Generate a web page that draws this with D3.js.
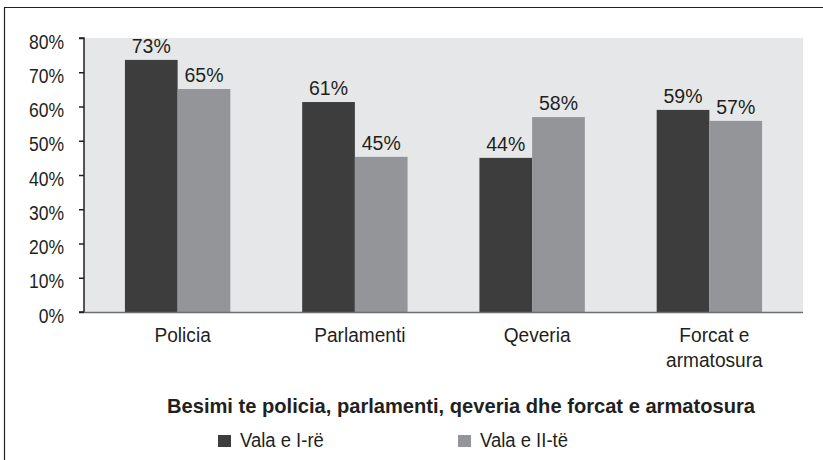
<!DOCTYPE html>
<html>
<head>
<meta charset="utf-8">
<script src="https://cdn.jsdelivr.net/npm/d3@7"></script>
<style>
html,body{margin:0;padding:0;background:#fff;}
svg{display:block;}
text{font-family:"Liberation Sans",Arial,sans-serif;fill:#231f20;}
</style>
</head>
<body>
<svg id="chart" width="823" height="460"></svg>
<script>
const categories = ["Policia", "Parlamenti", "Qeveria", "Forcat e\narmatosura"];
const seriesNames = ["Vala e I-rë", "Vala e II-të"];
const wave1 = [73.6, 61.3, 45.0, 59.0];
const wave2 = [65.1, 45.3, 56.9, 55.8];
const wave1Labels = ["73%", "61%", "44%", "59%"];
const wave2Labels = ["65%", "45%", "58%", "57%"];
const yTicks = [0, 10, 20, 30, 40, 50, 60, 70, 80];
const title = "Besimi te policia, parlamenti, qeveria dhe forcat e armatosura";
const colors = ["#3d3d3d", "#939598"];

const SX = 0.91; // condensed look
const svg = d3.select("#chart");

function addText(parent, x, y, str, size, anchor, opts) {
  opts = opts || {};
  const t = parent.append("text")
    .attr("transform", `translate(${x},${y}) scale(${opts.sx || SX},1)`)
    .attr("text-anchor", anchor || "start")
    .attr("font-size", size)
    .text(str);
  if (opts.bold) t.attr("font-weight", "bold");
  return t;
}

// frame (left and top edges)
svg.append("line").attr("x1",4.5).attr("x2",4.5).attr("y1",7).attr("y2",460).attr("stroke","#231f20").attr("stroke-width",1.2);
svg.append("line").attr("x1",4).attr("x2",823).attr("y1",7.5).attr("y2",7.5).attr("stroke","#231f20").attr("stroke-width",1.2);

const plot = {left:84, right:803, top:38, bottom:312};

const y = d3.scaleLinear().domain([0,80]).range([plot.bottom, plot.top]);
const x0 = d3.scaleBand().domain(categories).range([89, 798]).padding(0);
const bw = x0.bandwidth();
const pairW = 105.4;
const x1 = d3.scaleBand().domain([0,1]).range([(bw-pairW)/2, (bw+pairW)/2]).padding(0);

svg.append("rect").attr("x",plot.left).attr("y",plot.top)
  .attr("width",plot.right-plot.left).attr("height",plot.bottom-plot.top)
  .attr("fill","#e6e7e8");

const series = [wave1, wave2];
const labels = [wave1Labels, wave2Labels];

series.forEach((vals, si) => {
  const g = svg.append("g");
  g.selectAll("rect").data(vals).join("rect")
    .attr("x",(d,i)=>x0(categories[i])+x1(si))
    .attr("y",d=>y(d))
    .attr("width",x1.bandwidth())
    .attr("height",d=>y(0)-y(d))
    .attr("fill",colors[si]);
  vals.forEach((d,i)=>{
    addText(g, x0(categories[i])+x1(si)+x1.bandwidth()/2, y(d)-7, labels[si][i], 21, "middle", {sx:0.93});
  });
});

// y axis
const yAxis = d3.axisLeft(y).tickValues(yTicks).tickFormat(d=>d+"%").tickSize(5).tickPadding(15);
const ya = svg.append("g").attr("transform",`translate(${plot.left},0)`).call(yAxis);
ya.select(".domain").attr("stroke","#231f20").attr("stroke-width",1.5).attr("d",`M-5,${plot.top}H0V${plot.bottom}H-5`);
ya.selectAll(".tick line").attr("stroke","#231f20").attr("stroke-width",1.5);
ya.selectAll(".tick text")
  .attr("font-size",19.5).attr("fill","#231f20")
  .attr("dy",null).attr("x",null)
  .attr("transform",`translate(-20,10) scale(0.9,1)`)
  .style("font-family",'"Liberation Sans",Arial,sans-serif');

// x axis line
svg.append("line").attr("x1",plot.left).attr("x2",plot.right).attr("y1",plot.bottom+0.5).attr("y2",plot.bottom+0.5)
  .attr("stroke","#6d6e71").attr("stroke-width",1.5);

// category labels
const cl = svg.append("g");
categories.forEach(c => {
  c.split("\n").forEach((ln,i)=>{
    addText(cl, x0(c)+bw/2+5, 342 + i*25, ln, 21, "middle");
  });
});

// title
svg.append("text").attr("x",461).attr("y",413).attr("text-anchor","middle")
  .attr("font-size",21).attr("font-weight","bold")
  .attr("textLength",588).attr("lengthAdjust","spacingAndGlyphs").text(title);

// legend
const legendX = [218, 458];
seriesNames.forEach((n,i)=>{
  svg.append("rect").attr("x",legendX[i]).attr("y",435).attr("width",13).attr("height",12).attr("fill",colors[i]);
  addText(svg, legendX[i]+22, 447, n, 21, "start", {sx:0.88});
});
</script>
</body>
</html>
